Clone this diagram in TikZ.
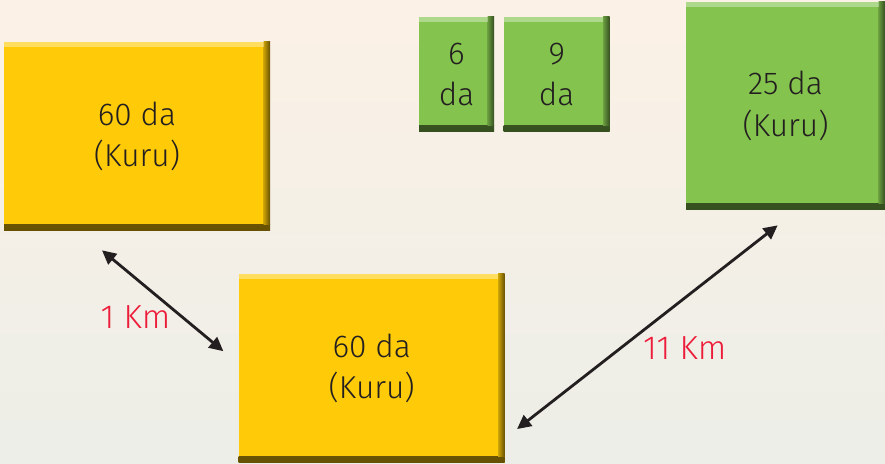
\documentclass[tikz,border=0pt]{standalone}
\usepackage{fontspec}
\setmainfont{Fira Sans}[UprightFont={* Light}]
\usepackage{tikz}
\usetikzlibrary{positioning, arrows.meta, shadings}
\usepackage{color}
\definecolor{bgtop}{RGB}{252, 241, 230}
\definecolor{bgmid}{RGB}{249, 232, 222}
\definecolor{bgbottom}{RGB}{236, 238, 231}
\definecolor{yellowbox}{RGB}{255, 203, 8}
\definecolor{greenbox}{RGB}{132, 196, 78}
\definecolor{inktext}{RGB}{35, 31, 32}
\definecolor{kmred}{RGB}{237, 28, 58}
\tikzstyle{bevel} = [path picture={
		\shade[top color=#1!80!black, bottom color=#1!40!black] ([yshift=0.13cm]path picture bounding box.south west) rectangle (path picture bounding box.south east);
		\shade[left color=#1!80!black, right color=#1!40!black] ([xshift=-0.13cm,yshift=0.13cm]path picture bounding box.south east) rectangle (path picture bounding box.north east);
		\fill[white,opacity=.35] ([yshift=-0.1cm]path picture bounding box.north west) rectangle ([xshift=-0.13cm]path picture bounding box.north east);}]
\tikzstyle{ybox} = [rectangle,fill=yellowbox,bevel=yellowbox,text=inktext,align=center,font=\fontsize{18}{23.5}\selectfont,minimum width=5.32cm,minimum height=3.78cm]
\tikzstyle{gbox} = [rectangle,fill=greenbox,bevel=greenbox,text=inktext,align=center,font=\fontsize{18}{23.5}\selectfont,minimum height=2.30cm]
\tikzstyle{dist} = [{Triangle[length=2.8mm,width=2.7mm]}-{Triangle[length=2.8mm,width=2.7mm]},line width=1.6pt,color=inktext]
\tikzstyle{km} = [text=kmred,font=\fontsize{19}{20}\selectfont]

\begin{document}
\begin{tikzpicture}
			\useasboundingbox (0,0) rectangle (17.7,9.28);
			\shade[top color=bgtop, middle color=bgmid, bottom color=bgbottom] (0,0) rectangle (17.7,9.28);
			
			\node [ybox](kuru1) at (2.74,6.55){60 da\\(Kuru)};
			\node [ybox,below right=0.84cm and -0.64cm of kuru1](kuru2){60 da\\(Kuru)};
			\node [gbox,minimum width=1.50cm](g6) at (9.13,7.79){6\\da};
			\node [gbox,minimum width=2.12cm,right=0.18cm of g6](g9){9\\da};
			\node [gbox,minimum width=3.98cm,minimum height=4.16cm](kuru3) at (15.71,7.16){25 da\\(Kuru)};
			
			\coordinate (a1s) at ([xshift=-0.70cm,yshift=-0.38cm]kuru1.south);
			\coordinate (a1e) at ([xshift=-0.30cm,yshift=0.34cm]kuru2.west);
			\coordinate (a2s) at ([xshift=0.24cm,yshift=0.68cm]kuru2.south east);
			\coordinate (a2e) at ([xshift=1.84cm,yshift=-0.30cm]kuru3.south west);
			
			\draw[dist](a1s)--node[km,left,xshift=.30cm,yshift=-.32cm]{1 Km}(a1e);
			\draw[dist](a2s)--node[km,right,xshift=-.23cm,yshift=-.41cm]{11 Km}(a2e);
			\end{tikzpicture}
\end{document}
